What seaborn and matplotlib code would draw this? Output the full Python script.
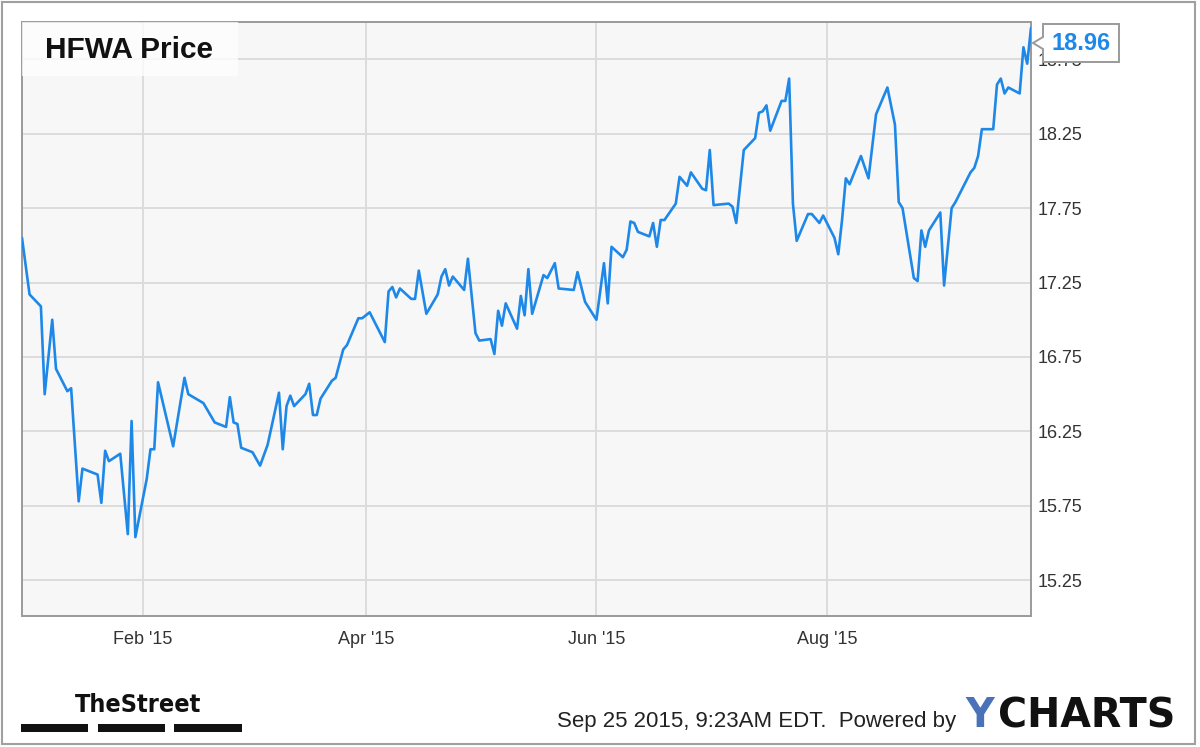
import matplotlib
matplotlib.use("Agg")
import matplotlib.pyplot as plt
from matplotlib.patches import Rectangle, Polygon
import numpy as np
import pandas as pd
import seaborn as sns

# ---------------- data ----------------
dates = ["2014-12-31","2015-01-02","2015-01-05","2015-01-06","2015-01-08","2015-01-09","2015-01-12","2015-01-13",
         "2015-01-15","2015-01-16","2015-01-20","2015-01-21","2015-01-22","2015-01-23","2015-01-26","2015-01-28",
         "2015-01-29","2015-01-30","2015-02-02","2015-02-03","2015-02-04","2015-02-05","2015-02-09","2015-02-12",
         "2015-02-13","2015-02-17","2015-02-20","2015-02-23","2015-02-24","2015-02-25","2015-02-26","2015-02-27",
         "2015-03-02","2015-03-04","2015-03-06","2015-03-09","2015-03-10","2015-03-11","2015-03-12","2015-03-13",
         "2015-03-16","2015-03-17","2015-03-18","2015-03-19","2015-03-20","2015-03-23","2015-03-24","2015-03-26",
         "2015-03-27","2015-03-30","2015-03-31","2015-04-02","2015-04-06","2015-04-07","2015-04-08","2015-04-09",
         "2015-04-10","2015-04-13","2015-04-14","2015-04-15","2015-04-17","2015-04-20","2015-04-21","2015-04-22",
         "2015-04-23","2015-04-24","2015-04-27","2015-04-28","2015-04-30","2015-05-01","2015-05-04","2015-05-05",
         "2015-05-06","2015-05-07","2015-05-08","2015-05-11","2015-05-12","2015-05-13","2015-05-14","2015-05-15",
         "2015-05-18","2015-05-19","2015-05-21","2015-05-22","2015-05-26","2015-05-27","2015-05-29","2015-06-01",
         "2015-06-03","2015-06-04","2015-06-05","2015-06-08","2015-06-09","2015-06-10","2015-06-11","2015-06-12",
         "2015-06-15","2015-06-16","2015-06-17","2015-06-18","2015-06-19","2015-06-22","2015-06-23","2015-06-25",
         "2015-06-26","2015-06-29","2015-06-30","2015-07-01","2015-07-02","2015-07-06","2015-07-07","2015-07-08",
         "2015-07-10","2015-07-13","2015-07-14","2015-07-15","2015-07-16","2015-07-17","2015-07-20","2015-07-21",
         "2015-07-22","2015-07-23","2015-07-24","2015-07-27","2015-07-28","2015-07-30","2015-07-31","2015-08-03",
         "2015-08-04","2015-08-05","2015-08-06","2015-08-07","2015-08-10","2015-08-12","2015-08-14","2015-08-17",
         "2015-08-19","2015-08-20","2015-08-21","2015-08-24","2015-08-25","2015-08-26","2015-08-27","2015-08-28",
         "2015-08-31","2015-09-01","2015-09-03","2015-09-04","2015-09-08","2015-09-09","2015-09-10","2015-09-11",
         "2015-09-14","2015-09-15","2015-09-16","2015-09-17","2015-09-18","2015-09-21","2015-09-22","2015-09-23",
         "2015-09-24"]

prices = [17.55, 17.17, 17.09, 16.50, 17.00, 16.67, 16.52, 16.54,
          15.78, 16.00, 15.96, 15.77, 16.12, 16.05, 16.10, 15.56,
          16.32, 15.54, 15.93, 16.13, 16.13, 16.58, 16.15, 16.61,
          16.50, 16.44, 16.31, 16.28, 16.48, 16.31, 16.30, 16.14,
          16.11, 16.02, 16.16, 16.51, 16.13, 16.42, 16.49, 16.42,
          16.50, 16.57, 16.36, 16.36, 16.47, 16.59, 16.61, 16.80,
          16.83, 17.01, 17.01, 17.05, 16.85, 17.19, 17.22, 17.15,
          17.21, 17.14, 17.14, 17.33, 17.04, 17.17, 17.29, 17.34,
          17.23, 17.29, 17.20, 17.41, 16.91, 16.86, 16.87, 16.77,
          17.06, 16.96, 17.11, 16.94, 17.16, 17.03, 17.34, 17.04,
          17.30, 17.28, 17.38, 17.21, 17.20, 17.32, 17.12, 17.00,
          17.38, 17.11, 17.49, 17.42, 17.47, 17.66, 17.65, 17.59,
          17.56, 17.65, 17.49, 17.67, 17.67, 17.78, 17.96, 17.90,
          17.99, 17.88, 17.87, 18.14, 17.77, 17.78, 17.76, 17.65,
          18.14, 18.22, 18.39, 18.40, 18.44, 18.27, 18.47, 18.47,
          18.62, 17.78, 17.53, 17.71, 17.71, 17.65, 17.70, 17.55,
          17.44, 17.67, 17.95, 17.91, 18.10, 17.95, 18.38, 18.56,
          18.31, 17.79, 17.75, 17.28, 17.26, 17.60, 17.49, 17.60,
          17.72, 17.23, 17.75, 17.79, 17.99, 18.02, 18.10, 18.28,
          18.28, 18.58, 18.62, 18.52, 18.56, 18.52, 18.83, 18.72,
          18.96]

y_ticks = [15.25, 15.75, 16.25, 16.75, 17.25, 17.75, 18.25, 18.75]
x_tick_dates = ["2015-02-01", "2015-04-01", "2015-06-01", "2015-08-01"]
x_tick_labels = ["Feb '15", "Apr '15", "Jun '15", "Aug '15"]
title = "HFWA Price"
footer = "Sep 25 2015, 9:23AM EDT.  Powered by"

# ---------------- style ----------------
sns.set_theme(style="whitegrid")
plt.rcParams['font.family'] = ['Liberation Sans', 'DejaVu Sans']

W, H = 1200, 747
fig = plt.figure(figsize=(W / 100, H / 100), dpi=100)
fig.patch.set_facecolor("white")

L, R, T, B = 22, 1031, 22, 616
ax = fig.add_axes([L / W, 1 - B / H, (R - L) / W, (B - T) / H])
ax.set_facecolor("#f7f7f7")

df = pd.DataFrame({"date": pd.to_datetime(dates), "price": prices})
line_color = "#1e88e8"
sns.lineplot(data=df, x="date", y="price", ax=ax, color=line_color, linewidth=1.9, zorder=3)

ax.set_xlim(df["date"].iloc[0], df["date"].iloc[-1])
ax.set_ylim(15.01, 19.0)
ax.set_xlabel("")
ax.set_ylabel("")

ax.yaxis.tick_right()
ax.set_yticks(y_ticks)
ax.set_yticklabels([f"{v:.2f}" for v in y_ticks])
ax.set_xticks(pd.to_datetime(x_tick_dates))
ax.set_xticklabels(x_tick_labels)
ax.tick_params(axis="both", length=0, labelsize=13, colors="#333333")
ax.tick_params(axis="y", pad=5)
ax.tick_params(axis="x", pad=11)

ax.grid(True, color="#dcdcdc", linewidth=1.4)
for s in ax.spines.values():
    s.set_color("#9a9a9a")
    s.set_linewidth(1.4)
    s.set_visible(True)

# title box
ax.add_patch(Rectangle((0, 1 - 54 / (B - T)), 216 / (R - L), 54 / (B - T),
                       transform=ax.transAxes, facecolor="white", alpha=0.75,
                       edgecolor="none", zorder=4))
ax.text(23 / (R - L), 1 - 27.5 / (B - T), title, transform=ax.transAxes,
        fontsize=21.5, fontweight="bold", color="#111111", va="center", ha="left", zorder=5)

# last-price callout (fixed position at upper right of plot)
tip_x_px, tip_y_px = 1033, 43
bx0, bx1 = 1043, 1119
by0, by1 = 24, 62
poly_px = [(tip_x_px, tip_y_px), (bx0, tip_y_px - 6), (bx0, by0), (bx1, by0),
           (bx1, by1), (bx0, by1), (bx0, tip_y_px + 6)]
poly = Polygon([(x / W, 1 - y / H) for x, y in poly_px], closed=True,
               transform=fig.transFigure, facecolor="white", edgecolor="#9a9a9a",
               linewidth=1.4, zorder=10)
fig.add_artist(poly)
fig.text((bx0 + bx1) / 2 / W, 1 - tip_y_px / H, f"{prices[-1]:.2f}", fontsize=17,
         fontweight="bold", color=line_color, ha="center", va="center", zorder=11)

# footer: TheStreet logo
fig.text(75 / W, 1 - 712 / H, "TheStreet", fontsize=18, fontweight="bold",
         family="DejaVu Sans", fontstretch="condensed", color="#111111",
         ha="left", va="baseline")
for x0, x1 in [(21, 88), (98, 165), (174, 242)]:
    fig.add_artist(Rectangle((x0 / W, 1 - 732 / H), (x1 - x0) / W, 8 / H,
                             transform=fig.transFigure, facecolor="#111111",
                             edgecolor="none"))

# footer: timestamp and YCHARTS
fig.text(557 / W, 1 - 727 / H, footer, fontsize=16, color="#222222",
         ha="left", va="baseline")
fig.text(965 / W, 1 - 727 / H, "Y", fontsize=28.5, fontweight="bold",
         family="DejaVu Sans", color="#4a72b8", ha="left", va="baseline")
fig.text(998 / W, 1 - 727 / H, "CHARTS", fontsize=28.5, fontweight="bold",
         family="DejaVu Sans", color="#111111", ha="left", va="baseline")

# outer border
fig.add_artist(Rectangle((2 / W, 1 - 744 / H), 1193 / W, 742 / H,
                         transform=fig.transFigure, facecolor="none",
                         edgecolor="#a0a0a0", linewidth=1.5))

fig.savefig("out.png", dpi=100, facecolor="white")
